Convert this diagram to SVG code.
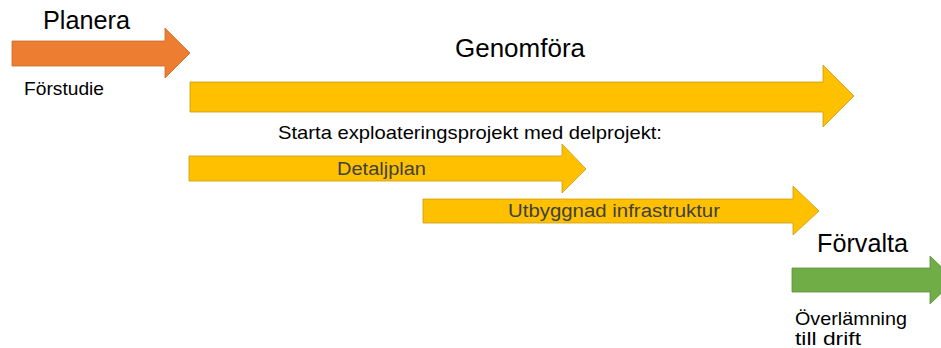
<svg xmlns="http://www.w3.org/2000/svg" width="941" height="348" viewBox="0 0 941 348">
<style>
.bg{fill:#ffffff}
.orange{fill:#ED7D31;stroke:#C8692A;stroke-width:0.8}
.yellow{fill:#FFC000;stroke:#C99A10;stroke-width:0.8}
.green{fill:#70AD47;stroke:#5A8E38;stroke-width:0.8}
.big{font-family:"Liberation Sans",Arial,sans-serif;font-size:26px;fill:#000000}
.small{font-family:"Liberation Sans",Arial,sans-serif;font-size:18.5px;fill:#000000}
.inner{font-family:"Liberation Sans",Arial,sans-serif;font-size:18px;fill:#404040}
</style>
<rect class="bg" x="0" y="0" width="941" height="348"/>
<g id="planera">
<polygon class="orange" points="12,41 165,41 165,28 190,53 165,78 165,66 12,66"/>
<text class="big" x="43" y="29" textLength="87" lengthAdjust="spacingAndGlyphs">Planera</text>
<text class="small" x="24" y="95" textLength="80" lengthAdjust="spacingAndGlyphs">Förstudie</text>
</g>
<g id="genomfora">
<polygon class="yellow" points="190,82 823,82 823,65 854,96 823,127 823,112 190,112"/>
<text class="big" x="455" y="57" textLength="130" lengthAdjust="spacingAndGlyphs">Genomföra</text>
<text class="small" x="278" y="139" textLength="384" lengthAdjust="spacingAndGlyphs">Starta exploateringsprojekt med delprojekt:</text>
</g>
<g id="detaljplan">
<polygon class="yellow" points="189,156 562,156 562,144 586,169 562,193 562,181 189,181"/>
<text class="inner" x="337" y="175" textLength="89" lengthAdjust="spacingAndGlyphs">Detaljplan</text>
</g>
<g id="utbyggnad">
<polygon class="yellow" points="423,199 793,199 793,186 819,211 793,235 793,223 423,223"/>
<text class="inner" x="508" y="217" textLength="212" lengthAdjust="spacingAndGlyphs">Utbyggnad infrastruktur</text>
</g>
<g id="forvalta">
<polygon class="green" points="792,268 930,268 930,256 955,280 930,304 930,292 792,292"/>
<text class="big" x="817" y="252" textLength="91" lengthAdjust="spacingAndGlyphs">Förvalta</text>
<text class="small" x="795" y="325" textLength="112" lengthAdjust="spacingAndGlyphs">Överlämning</text>
<text class="small" x="795" y="345" textLength="66" lengthAdjust="spacingAndGlyphs">till drift</text>
</g>
<g id="connectors"></g>
</svg>
